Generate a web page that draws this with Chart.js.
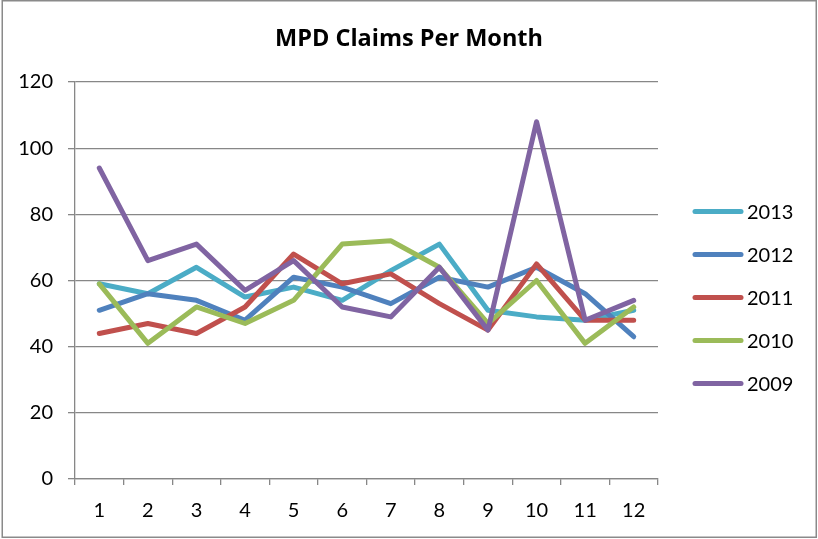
<!DOCTYPE html>
<html><head><meta charset="utf-8">
<script src="https://cdn.jsdelivr.net/npm/chart.js@4.4.1/dist/chart.umd.min.js"></script>
<style>
html,body{margin:0;padding:0;background:#fff;}
#wrap{position:absolute;left:0;top:0;width:818px;height:539px;}
canvas{display:block;}
</style></head><body>
<div id="wrap"><canvas id="c" width="818" height="539" style="width:818px;height:539px"></canvas></div>
<script>
const months = ['1','2','3','4','5','6','7','8','9','10','11','12'];
const seriesNames = ['2013','2012','2011','2010','2009'];
const seriesColors = ['#4BACC6','#4F81BD','#C0504D','#9BBB59','#8064A2'];
const data2013 = [59, 56, 64, 55, 58, 54, 63, 71, 51, 49, 48, 51];
const data2012 = [51, 56, 54, 48, 61, 58, 53, 61, 58, 64, 56, 43];
const data2011 = [44, 47, 44, 52, 68, 59, 62, 53, 45, 65, 48, 48];
const data2010 = [59, 41, 52, 47, 54, 71, 72, 64, 47, 60, 41, 52];
const data2009 = [94, 66, 71, 57, 66, 52, 49, 64, 45, 108, 48, 54];
const yTicks = [0, 20, 40, 60, 80, 100, 120];
const seriesValues = [data2013, data2012, data2011, data2010, data2009];

const GRID = '#878787';

const datasets = seriesNames.map((name, i) => ({
  label: name,
  data: seriesValues[i],
  borderColor: seriesColors[i],
  backgroundColor: seriesColors[i],
  borderWidth: 5,
  borderJoinStyle: 'round',
  borderCapStyle: 'round',
  pointRadius: 0,
  pointHoverRadius: 0,
  tension: 0,
  fill: false,
  yAxisID: 'y',
  order: seriesNames.length - i
}));

const frameAndLegend = {
  id: 'frameAndLegend',
  beforeDraw(chart) {
    const ctx = chart.ctx;
    ctx.save();
    ctx.fillStyle = '#fff';
    ctx.fillRect(0, 0, chart.width, chart.height);
    ctx.restore();
  },
  afterDraw(chart) {
    const ctx = chart.ctx;
    ctx.save();
    ctx.strokeStyle = '#8a8a8a';
    ctx.lineWidth = 1.5;
    ctx.strokeRect(2.25, 0.75, 814, 536.5);
    const x0 = 695, y0 = 211.5, step = 43, len = 46;
    chart.data.datasets.forEach((ds, i) => {
      const y = y0 + i * step;
      ctx.strokeStyle = ds.borderColor;
      ctx.lineWidth = 5;
      ctx.lineCap = 'round';
      ctx.beginPath();
      ctx.moveTo(x0, y);
      ctx.lineTo(x0 + len, y);
      ctx.stroke();
      ctx.fillStyle = '#000';
      ctx.font = '20px Lato';
      ctx.textBaseline = 'alphabetic';
      ctx.textAlign = 'left';
      ctx.fillText(ds.label, 747, y + 7.6);
    });
    ctx.restore();
  }
};

new Chart(document.getElementById('c'), {
  type: 'line',
  data: { labels: months, datasets },
  options: {
    responsive: false,
    animation: false,
    devicePixelRatio: 1,
    layout: { padding: 0 },
    plugins: {
      legend: { display: false },
      tooltip: { enabled: false },
      title: {
        display: true,
        text: 'MPD Claims Per Month',
        color: '#000',
        font: { family: 'Open Sans', size: 23.5, weight: 'bold' },
        padding: { top: 25, bottom: 28.8 }
      }
    },
    scales: {
      x: {
        type: 'category',
        offset: true,
        grid: {
          offset: true,
          drawOnChartArea: false,
          drawTicks: true,
          tickLength: 6,
          color: GRID,
          lineWidth: 1.3
        },
        border: { display: true, color: GRID, width: 1.3 },
        ticks: {
          color: '#000',
          font: { family: 'Lato', size: 20 },
          padding: 14,
          maxRotation: 0,
          autoSkip: false
        },
        afterFit(scale) { scale.height = 60; }
      },
      y: {
        min: 0,
        max: 120,
        afterBuildTicks(scale) { scale.ticks = yTicks.map(v => ({ value: v })); },
        grid: {
          color: GRID,
          lineWidth: 1.3,
          drawTicks: true,
          tickLength: 7
        },
        border: { display: true, color: GRID, width: 1.3 },
        ticks: {
          color: '#000',
          font: { family: 'Lato', size: 20 },
          padding: 15
        },
        afterFit(scale) { scale.width = 75; }
      },
      legendSpace: {
        type: 'linear',
        position: 'right',
        display: true,
        grid: { display: false, drawOnChartArea: false, drawTicks: false },
        border: { display: false },
        ticks: { display: false },
        afterFit(scale) { scale.width = 160; }
      }
    }
  },
  plugins: [frameAndLegend]
});
</script>
</body></html>
